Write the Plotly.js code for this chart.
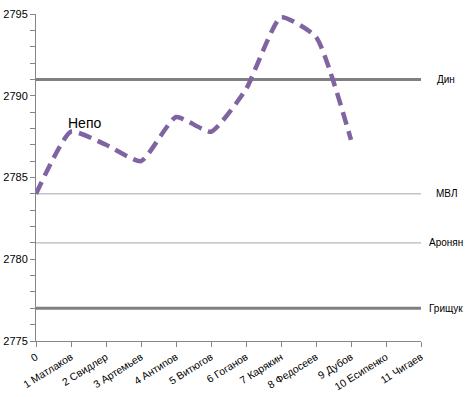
<!DOCTYPE html>
<html>
<head>
<meta charset="utf-8">
<script src="https://cdn.plot.ly/plotly-3.0.1.min.js"></script>
<style>html,body{margin:0;padding:0;background:#fff;}#chart{width:476px;height:397px;}</style>
</head>
<body>
<div id="chart"></div>
<script>
// Categories (x positions 0..11) and their labels
const positions = [0, 1, 2, 3, 4, 5, 6, 7, 8, 9, 10, 11];
const tickLabels = ["0", "1 Матлаков", "2 Свидлер", "3 Артемьев", "4 Антипов", "5 Витюгов",
  "6 Гоганов", "7 Карякин", "8 Федосеев", "9 Дубов", "10 Есипенко", "11 Чигаев"];

// Nepo's rating path after each round
const nepoRounds = [0, 1, 2, 3, 4, 5, 6, 7, 8, 9];
const nepoRatings = [2784, 2787.8, 2787.0, 2786.0, 2788.7, 2787.8, 2790.4, 2794.8, 2793.6, 2787.3];
const nepoName = "Непо";

// Reference rating levels of other players
const refNames = ["Дин", "МВЛ", "Аронян", "Грищук"];
const refRatings = [2791, 2784, 2781, 2777];
const refSpan = [0, 11];

// Styles (kept apart from the data)
const refThick = [true, false, false, true];

const font = "Liberation Sans, Arial, sans-serif";
const traces = [];
refNames.forEach((n, i) => {
  traces.push({
    x: refSpan, y: [refRatings[i], refRatings[i]], mode: "lines", name: n,
    line: {color: refThick[i] ? "#808080" : "#A6A6A6", width: refThick[i] ? 3 : 1},
    hoverinfo: "skip", cliponaxis: false
  });
});
traces.push({
  x: nepoRounds, y: nepoRatings, mode: "lines", name: nepoName,
  line: {color: "#8064A2", width: 4.5, shape: "spline", smoothing: 0.5, dash: "13px,7px"},
  cliponaxis: false
});

const annotations = refNames.map((n, i) => ({
  x: refSpan[1], y: refRatings[i], text: n, showarrow: false,
  xanchor: "center", yanchor: "middle", xshift: 25,
  font: {family: font, size: 10, color: "#000"}
}));
annotations.push({
  x: nepoRounds[1], y: nepoRatings[1], text: nepoName, showarrow: false,
  xanchor: "left", yanchor: "bottom", xshift: -5, yshift: -1,
  font: {family: font, size: 14, color: "#000"}
});

const layout = {
  width: 476, height: 397,
  margin: {l: 36, r: 55, t: 14, b: 56},
  paper_bgcolor: "#fff", plot_bgcolor: "#fff",
  showlegend: false,
  xaxis: {
    range: [0, 11], tickmode: "array", tickvals: positions, ticktext: tickLabels,
    tickangle: -32, showgrid: false, zeroline: false,
    showline: true, linecolor: "#868686", linewidth: 1,
    ticks: "outside", ticklen: 5, tickcolor: "#868686",
    tickfont: {family: font, size: 10.5, color: "#000"}
  },
  yaxis: {
    range: [2775, 2795], dtick: 5, tick0: 2775, showgrid: false, zeroline: false,
    showline: true, linecolor: "#868686", linewidth: 1,
    ticks: "outside", ticklen: 5, tickcolor: "#868686",
    minor: {dtick: 1, ticks: "outside", ticklen: 5, tickcolor: "#868686", showgrid: false},
    tickfont: {family: font, size: 11, color: "#000"}
  },
  annotations: annotations
};

Plotly.newPlot("chart", traces, layout, {displayModeBar: false, staticPlot: true});
</script>
</body>
</html>
